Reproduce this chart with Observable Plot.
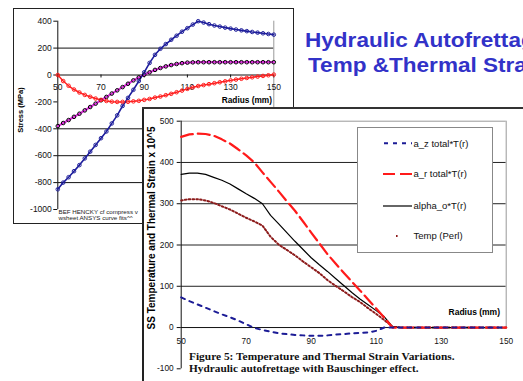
<!DOCTYPE html>
<html><head><meta charset="utf-8">
<script src="https://cdn.jsdelivr.net/npm/d3@7"></script>
<script src="https://cdn.jsdelivr.net/npm/@observablehq/plot@0.6"></script>
<style>
html,body{margin:0;padding:0;background:#fff;}
#wrap{position:relative;width:523px;height:381px;overflow:hidden;background:#fff;}
#wrap div{box-sizing:border-box;}
</style></head><body><div id="wrap"></div>
<script>
// ---------- data ----------
const radius = [50,52.5,55,57.5,60,62.5,65,67.5,70,72.5,75,77.5,80,82.5,85,87.5,90,92.5,95,97.5,100,102.5,105,107.5,110,112.5,115,117.5,120,122.5,125,127.5,130,132.5,135,137.5,140,142.5,145,147.5,150];

// back chart: Stress (MPa)
const stressHoop   = [-850,-800,-760,-715,-670,-620,-570,-520,-470,-420,-360,-300,-230,-170,-110,-45,20,90,150,195,230,262,292,322,348,375,400,390,378,368,360,352,345,338,332,326,320,315,310,305,300];
const stressAxial  = [-380,-357,-335,-311,-288,-263,-238,-213,-188,-163,-138,-114,-90,-65,-40,-18,2,20,38,52,64,74,82,88,92,94,95,95,95,95,95,95,95,95,95,95,95,95,95,95,95];
const stressRadial = [0,-45,-80,-108,-130,-148,-162,-175,-185,-193,-198,-200,-200,-199,-196,-192,-185,-178,-168,-160,-150,-140,-128,-116,-103,-92,-82,-75,-68,-61,-54,-47,-40,-34,-28,-22,-17,-12,-7,-2,3];

// front chart: SS Temperature and Thermal Strain x 10^5
const azTotal  = [73,64,56,48,40,32,25,17,8,-1,-6,-10,-14,-16,-18,-19,-20,-20,-19,-17,-16,-14,-13,-12,-8,0,0,0,0,0,0,0,0,0,0,0,0,0,0,0,0];
const arTotal  = [462,468,470,469,465,456,446,432,417,400,376,353,330,306,283,257,230,204,178,155,133,111,90,68,46,24,0,0,0,0,0,0,0,0,0,0,0,0,0,0,0];
const alphaO   = [371,374,374,371,364,357,348,336,324,313,300,272,251,230,209,189,169,152,136,119,102,85,69,55,41,26,2,0,0,0,0,0,0,0,0,0,0,0,0,0,0];
const tempPerl = [308,311,311,308,302,294,286,276,266,257,247,220,201,188,175,160,146,132,115,101,88,74,62,47,33,18,2,0,0,0,0,0,0,0,0,0,0,0,0,0,0];

const radiusTicks  = [50,70,90,110,130,150];
const stressTicks  = [-1000,-800,-600,-400,-200,0,200,400];
const stressGrid   = [200,-400,-600,-800];
const strainTicks  = [-100,0,100,200,300,400,500];
const strainGrid   = [100,200,300,400];
const legendLabels = ["a_z total*T(r)","a_r total*T(r)","alpha_o*T(r)","Temp (Perl)"];

const rows = radius.map((r,i)=>({r, hoop:stressHoop[i], axial:stressAxial[i], radial:stressRadial[i],
  az:azTotal[i], ar:arTotal[i], alpha:alphaO[i], temp:tempPerl[i]}));

// ---------- helpers ----------
const SANS='"Liberation Sans", Arial, sans-serif';
const SERIF='"Liberation Serif", "Times New Roman", serif';
const wrap=document.getElementById('wrap');
function layer(z){const d=document.createElement('div');d.style.cssText=`position:absolute;left:0;top:0;width:523px;height:381px;z-index:${z}`;wrap.appendChild(d);return d;}
function box(p,l,t,w,h,css=""){const d=document.createElement('div');d.style.cssText=`position:absolute;left:${l}px;top:${t}px;width:${w}px;height:${h}px;${css}`;p.appendChild(d);return d;}
function txt(p,s,x,y,o={}){
  const size=o.size||9, fam=o.family||SANS;
  const d=document.createElement('div'); d.textContent=s;
  const base=`position:absolute;white-space:nowrap;line-height:1;font-size:${size}px;font-family:${fam};font-weight:${o.weight||'normal'};color:${o.color||'#000'};`;
  if(o.rotate){
    d.style.cssText=base+`left:${x}px;top:${y}px;transform:translate(-50%,-50%) rotate(${o.rotate}deg);`;
  } else {
    const asc=fam===SERIF?0.8375:0.8465;
    const ax=o.anchor==='end'?'-100%':o.anchor==='middle'?'-50%':'0';
    d.style.cssText=base+`left:${x}px;top:${y-asc*size}px;transform-origin:0 0;transform:translateX(${ax}) scaleX(${o.sx||1});`;
  }
  p.appendChild(d); return d;
}
function place(svg,l,t){svg.style.position='absolute';svg.style.left=l+'px';svg.style.top=t+'px';return svg;}

// ---------- back chart (Stress) ----------
const L1=layer(1);
box(L1,13,8,280,215,'background:#fff;');
const back=Plot.plot({
  width:280,height:215,
  marginLeft:44.3,marginRight:19.7,marginTop:12.7,marginBottom:14,
  style:{background:"transparent",fontFamily:SANS,fontSize:"8.5px",color:"#111"},
  x:{domain:[50,150],axis:null},
  y:{domain:[-1000,400],ticks:stressTicks,tickSize:4,tickPadding:2,label:null,tickFormat:d=>String(d)},
  marks:[
    Plot.ruleY(stressGrid,{stroke:"#111",strokeWidth:1}),
    Plot.ruleX([150],{y1:-1000,y2:400,stroke:"#999"}),
    Plot.ruleY([0],{stroke:"#111"}),
    Plot.ruleX([50],{y1:-1000,y2:400,stroke:"#111"}),
    Plot.ruleX(radiusTicks,{y1:0,y2:-22,stroke:"#111"}),
    Plot.text(radiusTicks,{x:d=>d,y:0,dy:12,text:d=>String(d),fontSize:8.5,fill:"#111"}),
    Plot.line(rows,{x:"r",y:"axial",stroke:"#e030e0",strokeWidth:2.2}),
    Plot.line(rows,{x:"r",y:"radial",stroke:"#ff2020",strokeWidth:1.5}),
    Plot.line(rows,{x:"r",y:"hoop",stroke:"#1c1c9c",strokeWidth:1.6}),
    Plot.dot(rows,{x:"r",y:"axial",r:1.8,stroke:"#000",strokeWidth:1,fill:"none"}),
    Plot.dot(rows,{x:"r",y:"radial",r:1.8,stroke:"#ff2020",strokeWidth:1,fill:"none"}),
    Plot.dot(rows,{x:"r",y:"hoop",r:1.8,stroke:"#24249c",strokeWidth:1,fill:"none"})
  ]
});
L1.appendChild(place(back,13,8));
box(L1,12.5,7.5,281.5,216.5,'border:1.5px solid #222;');
txt(L1,"Stress (MPa)",20.7,110,{size:7.5,weight:'bold',rotate:-90});
txt(L1,"Radius (mm)",272,103,{size:8.3,weight:'bold',anchor:'end'});
txt(L1,"BEF HENCKY cf compress v",58.5,214.5,{size:6.2,color:'#222'});
txt(L1,"wsheet ANSYS curve fits^^",58.5,220.5,{size:6.2,color:'#222'});

// ---------- front chart (Temperature / Thermal strain) ----------
const L2=layer(2);
box(L2,142,107,381,274,'background:#fff;');
const front=Plot.plot({
  width:381,height:274,
  marginLeft:38.7,marginRight:17.3,marginTop:13.7,marginBottom:12.7,
  style:{background:"transparent",fontFamily:SANS,fontSize:"8.3px",color:"#111"},
  x:{domain:[50,150],axis:null},
  y:{domain:[-100,500],ticks:strainTicks,tickSize:4,tickPadding:3.5,label:null,tickFormat:d=>String(d)},
  marks:[
    Plot.ruleY(strainGrid,{stroke:"#222",strokeWidth:1}),
    Plot.ruleY([500],{stroke:"#999"}),
    Plot.ruleX([150],{y1:0,y2:500,stroke:"#999"}),
    Plot.ruleY([0],{stroke:"#111"}),
    Plot.ruleX([50],{y1:-100,y2:500,stroke:"#111"}),
    Plot.text(radiusTicks,{x:d=>d,y:0,dy:13.5,text:d=>String(d),fontSize:8.3,fill:"#111"}),
    Plot.line(rows,{x:"r",y:"temp",stroke:"#8c1a1a",strokeWidth:2,strokeDasharray:"1.6,2.2"}),
    Plot.line(rows,{x:"r",y:"alpha",stroke:"#000",strokeWidth:1.2}),
    Plot.line(rows,{x:"r",y:"ar",stroke:"#ff1a1a",strokeWidth:2.2,strokeDasharray:"12,5"}),
    Plot.line(rows,{x:"r",y:"az",stroke:"#1c1c96",strokeWidth:2,strokeDasharray:"4,5"})
  ]
});
L2.appendChild(place(front,142,107));
box(L2,142,107,2,274,'background:#222;');
box(L2,142,107,381,2,'background:#333;');
txt(L2,"SS Temperature and Thermal Strain x 10^5",152,228,{size:10,weight:'bold',rotate:-90});
txt(L2,"Radius (mm)",500,315,{size:8.5,weight:'bold',anchor:'end'});

// legend
box(L2,356.7,127.3,136.6,125.4,'background:#fff;border:1px solid #888;');
const legY=[143.3,174,206,236];
const legStyles=[
  {stroke:"#1c1c96",w:2,dash:"4,5",x1:384,x2:412},
  {stroke:"#ff1a1a",w:2.2,dash:"12,5",x1:383,x2:412},
  {stroke:"#000",w:1.2,dash:"",x1:383,x2:412},
  {stroke:"#8c1a1a",w:2,dash:"1.6,2.4",x1:396,x2:400}
];
const legSvg=d3.create("svg").attr("width",523).attr("height",381)
  .style("position","absolute").style("left","0").style("top","0");
legendLabels.forEach((lab,i)=>{
  const s=legStyles[i];
  legSvg.append("line").attr("x1",s.x1).attr("x2",s.x2).attr("y1",legY[i]).attr("y2",legY[i])
    .attr("stroke",s.stroke).attr("stroke-width",s.w).attr("stroke-dasharray",s.dash||null);
  txt(L2,lab,413.5,legY[i]+3.4,{size:9.5,color:'#111'});
});
L2.appendChild(legSvg.node());

// caption
txt(L2,"Figure 5: Temperature and Thermal Strain Variations.",189.3,360.3,{size:10.5,weight:'bold',family:SERIF,sx:1.085,color:'#111'});
txt(L2,"Hydraulic autofrettage with Bauschinger effect.",188.5,372.5,{size:10.5,weight:'bold',family:SERIF,sx:1.076,color:'#111'});

// ---------- title ----------
const L3=layer(3);
txt(L3,"Hydraulic Autofrettage",305,47.3,{size:20.5,weight:'bold',color:'#3232c8',sx:1.1});
txt(L3,"Temp &Thermal Strain",308,72,{size:20.5,weight:'bold',color:'#3232c8',sx:1.1});
</script></body></html>
